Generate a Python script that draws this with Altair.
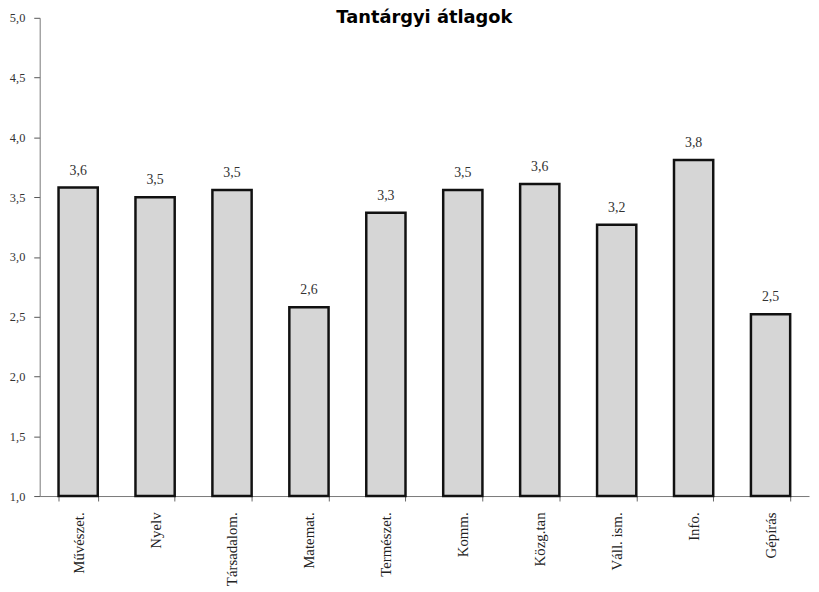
import altair as alt
import pandas as pd

subjects = ["Művészet.", "Nyelv", "Társadalom.", "Matemat.", "Természet.",
            "Komm.", "Közg.tan", "Váll. ism.", "Info.", "Gépírás"]
averages = [3.58, 3.50, 3.56, 2.58, 3.37, 3.56, 3.61, 3.27, 3.81, 2.52]
labels = ["3,6", "3,5", "3,5", "2,6", "3,3", "3,5", "3,6", "3,2", "3,8", "2,5"]
y_ticks = [1.0, 1.5, 2.0, 2.5, 3.0, 3.5, 4.0, 4.5, 5.0]

df = pd.DataFrame({"subject": subjects, "avg": averages, "label": labels})

serif = "Liberation Serif"

x_axis = alt.Axis(title=None, labelAngle=-90, labelFont=serif, labelFontSize=15,
                  labelColor="#222", labelPadding=11, tickBand="extent",
                  ticks=True, tickSize=5, tickColor="#666",
                  domainColor="#777", domainWidth=1)
y_axis = alt.Axis(title=None, values=y_ticks, format=".1f",
                  labelExpr="replace(datum.label, '.', ',')",
                  labelFont=serif, labelFontSize=12.5, labelColor="#333",
                  tickSize=6, tickColor="#555", domainColor="#777", grid=False,
                  labelPadding=9)
y_scale = alt.Scale(domain=[1.0, 5.0], nice=False, zero=False)

bars = alt.Chart(df).mark_bar(color="#d6d6d6", stroke="#111", strokeWidth=2.5).encode(
    x=alt.X("subject:N", sort=subjects,
            scale=alt.Scale(paddingInner=0.49, paddingOuter=0.245), axis=x_axis),
    y=alt.Y("avg:Q", scale=y_scale, axis=y_axis),
    y2=alt.datum(1.0)
)

text = alt.Chart(df).mark_text(font=serif, fontSize=14, color="#333", baseline="bottom", dy=-10).encode(
    x=alt.X("subject:N", sort=subjects),
    y=alt.Y("avg:Q"),
    text="label:N"
)

chart = alt.layer(bars, text).properties(
    width=777, height=483,
    title=alt.TitleParams("Tantárgyi átlagok", font="DejaVu Sans", fontSize=18, fontWeight="bold",
                          anchor="middle", offset=0, dy=15, color="#000"),
    autosize=alt.AutoSizeParams(type="none"),
    padding={"left": 32, "top": 7, "right": 2, "bottom": 94}
).configure_view(stroke=None)

chart.save("out.html", embed_options={"renderer": "svg", "actions": False})
